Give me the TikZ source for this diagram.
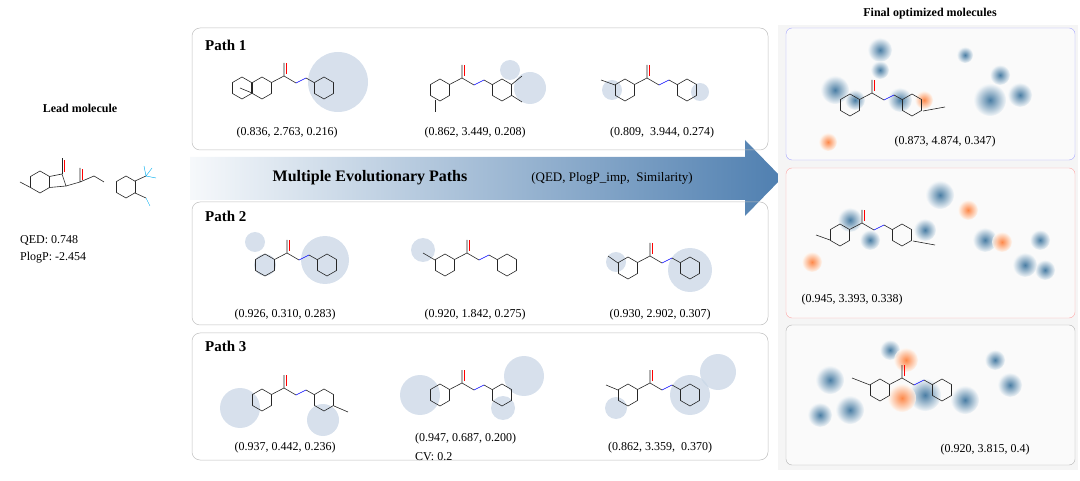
\documentclass[tikz,border=0pt]{standalone}
\usepackage{fontspec}
\setmainfont{Liberation Serif}
\begin{document}
\definecolor{arr}{HTML}{4F7FB0}
\definecolor{hl}{HTML}{C9D6E6}
\definecolor{heat}{HTML}{1F5F8F}
\begin{tikzpicture}[x=1pt,y=-1pt,
  box/.style={draw=black!25,rounded corners=8pt,line width=0.5pt},
  lab/.style={font=\fontsize{12}{13}\selectfont,inner sep=0pt},
  ttl/.style={font=\bfseries\fontsize{15}{16}\selectfont,inner sep=0pt},
  bond/.style={line width=0.6pt,black!85},
  hlc/.style={fill=hl,opacity=0.75},
  blob/.style={inner color=heat,outer color=heat!5,opacity=0.8},
  rblob/.style={inner color=orange!70!red,outer color=orange!5,opacity=0.7},
  hex/.pic={\draw[bond] (30:11)--(90:11)--(150:11)--(210:11)--(270:11)--(330:11)--cycle;},
  amide/.pic={\draw[bond] (0,0) pic{hex} (9.5,-5.5)--(22,-12)--(34,-5) (22,-12)--(22,-25);
    \draw[red,line width=0.6pt] (24,-14)--(24,-25);
    \draw[bond,blue] (34,-5)--(44,-10);
    \draw[bond] (44,-10)--(52,-5.5) (62,0) pic{hex};}
]
\useasboundingbox (0,0) rectangle (1080,481);
% lead
\node[font=\bfseries\fontsize{12}{13}\selectfont] (lt) at (80,108) {Lead molecule};
\begin{scope}[shift={(40,182)}]
\draw[bond] (0,0) pic{hex} (-9.5,5.5)--(-20,0);
\draw[bond] (9.5,-5.5)--(22,-8)--(26,4)--(9.5,5.5);
\draw[bond] (22,-8)--(22,-24); \draw[red] (24,-10)--(24,-22);
\draw[bond] (26,4)--(40,0)--(54,-6) (40,0)--(40,-14);
\draw[red] (42,-2)--(42,-13);
\draw[bond] (54,-6)--(64,0) (86,5) pic{hex} (95,-1)--(106,-6) (95,11)--(106,16);
\draw[cyan] (106,-6)--(112,-14) (106,-6)--(116,-4) (106,-6)--(104,-16) (106,16)--(110,24);
\end{scope}
\node[lab,anchor=west] (q) at (20,240) {QED: 0.748};
\node[lab,anchor=west] (p) at (20,258) {PlogP: -2.454};
% arrow
\shade[left color=arr!5,right color=arr] (190,157)--(745,157)--(745,140)--(782,178)--(745,216)--(745,200)--(190,200)--cycle;
\node[ttl,font=\bfseries\fontsize{16}{17}\selectfont] (mep) at (370,178) {Multiple Evolutionary Paths};
\node[lab,font=\fontsize{13}{14}\selectfont] (qps) at (612,178) {(QED, PlogP\_imp,\ \ Similarity)};
% path boxes
\draw[box] (192,28) rectangle (768,150);
\draw[box] (192,202) rectangle (768,325);
\draw[box] (192,333) rectangle (768,460);
\node[ttl,anchor=west] (p1) at (205,45) {Path 1};
\node[ttl,anchor=west] (p2) at (205,216) {Path 2};
\node[ttl,anchor=west] (p3) at (205,346) {Path 3};
% highlights
\fill[hlc] (338,82) circle (30);
\fill[hlc] (510,70) circle (10); \fill[hlc] (530,88) circle (16);
\fill[hlc] (612,90) circle (10); \fill[hlc] (700,92) circle (9);
\fill[hlc] (255,242) circle (10); \fill[hlc] (265,265) circle (11); \fill[hlc] (325,260) circle (24);
\fill[hlc] (423,250) circle (12); \fill[hlc] (616,262) circle (10); \fill[hlc] (690,270) circle (22);
\fill[hlc] (240,408) circle (20); \fill[hlc] (323,420) circle (16);
\fill[hlc] (420,395) circle (20); \fill[hlc] (503,408) circle (12); \fill[hlc] (524,376) circle (20);
\fill[hlc] (616,408) circle (11); \fill[hlc] (690,395) circle (20); \fill[hlc] (718,372) circle (18);
% molecules
\begin{scope}[shift={(262,88)}]\draw[bond] (-10,5)--(-22,0) (-20,0) +(0,0) pic{hex}; \pic at (0,0) {amide};\end{scope}
\begin{scope}[shift={(440,90)}]\draw[bond] (-5,10)--(-5,22); \pic at (0,0) {amide}; \draw[bond] (71,-5)--(82,-14) (71,5)--(82,12);\end{scope}
\begin{scope}[shift={(625,90)}]\draw[bond] (-10,-5)--(-24,-10); \pic at (0,0) {amide}; \end{scope}
\begin{scope}[shift={(265,265)}]\pic at (0,0) {amide};\end{scope}
\begin{scope}[shift={(445,265)}]\draw[bond] (-10,-5)--(-22,-12); \pic at (0,0) {amide};\end{scope}
\begin{scope}[shift={(628,268)}]\draw[bond] (-10,-5)--(-20,-12); \pic at (0,0) {amide};\end{scope}
\begin{scope}[shift={(262,400)}]\pic at (0,0) {amide}; \draw[bond] (62,0) +(10,6)--+(24,12);\end{scope}
\begin{scope}[shift={(440,395)}]\pic at (0,0) {amide};\end{scope}
\begin{scope}[shift={(628,395)}]\draw[bond] (-10,-5)--(-22,-10); \pic at (0,0) {amide};\end{scope}
% labels
\node[lab] (l11) at (287,133) {(0.836, 2.763, 0.216)};
\node[lab] (l12) at (475,133) {(0.862, 3.449, 0.208)};
\node[lab] (l13) at (662,133) {(0.809,\ \ 3.944, 0.274)};
\node[lab] (l21) at (285,315) {(0.926, 0.310, 0.283)};
\node[lab] (l22) at (475,315) {(0.920, 1.842, 0.275)};
\node[lab] (l23) at (660,315) {(0.930, 2.902, 0.307)};
\node[lab] (l31) at (285,448) {(0.937, 0.442, 0.236)};
\node[lab,anchor=west] (l32) at (415,439) {(0.947, 0.687, 0.200)};
\node[lab,anchor=west] (cv) at (415,457) {CV: 0.2};
\node[lab] (l33) at (660,448) {(0.862, 3.359,\ \ 0.370)};
% right panel
\fill[black!4] (778,25) rectangle (1078,470);
\node[font=\bfseries\fontsize{12}{13}\selectfont] (ft) at (930,14) {Final optimized molecules};
\draw[rounded corners=6pt,draw=blue!35,fill=white!40!black!3] (786,28) rectangle (1075,160);
\draw[rounded corners=6pt,draw=red!35,fill=white!40!black!3] (786,168) rectangle (1075,318);
\draw[rounded corners=6pt,draw=black!30,fill=white!40!black!3] (786,325) rectangle (1075,465);
% heat blobs
\foreach \x/\y/\r in {880/50/12,880/70/9,900/100/12,965/55/8,990/100/16,1020/95/12,1000/75/10,855/100/10,835/90/14,
 940/195/14,985/240/12,1040/240/10,1045/270/10,1025/265/12,870/240/10,925/230/11,850/220/12,
 830/380/14,850/410/14,820/415/12,925/395/16,965/400/14,1010/385/12,890/350/10,995/360/10}
 \shade[blob] (\x,\y) circle (\r);
\foreach \x/\y/\r in {924/100/9,828/142/9,812/262/10,968/210/10,1002/242/10,902/398/14,906/360/12}
 \shade[rblob] (\x,\y) circle (\r);
\begin{scope}[shift={(850,105)}]\pic at (0,0) {amide}; \draw[bond] (73,6)--(95,2);\end{scope}
\begin{scope}[shift={(840,235)}]\draw[bond] (-10,5)--(-24,0); \pic at (0,0) {amide}; \draw[bond] (73,6)--(95,10);\end{scope}
\begin{scope}[shift={(880,390)}]\pic at (0,0) {amide}; \draw[bond] (-10,-5)--(-28,-12);\end{scope}
\node[lab] (r1) at (945,142) {(0.873, 4.874, 0.347)};
\node[lab] (r2) at (852,300) {(0.945, 3.393, 0.338)};
\node[lab] (r3) at (985,450) {(0.920, 3.815, 0.4)};
\end{tikzpicture}
\end{document}
